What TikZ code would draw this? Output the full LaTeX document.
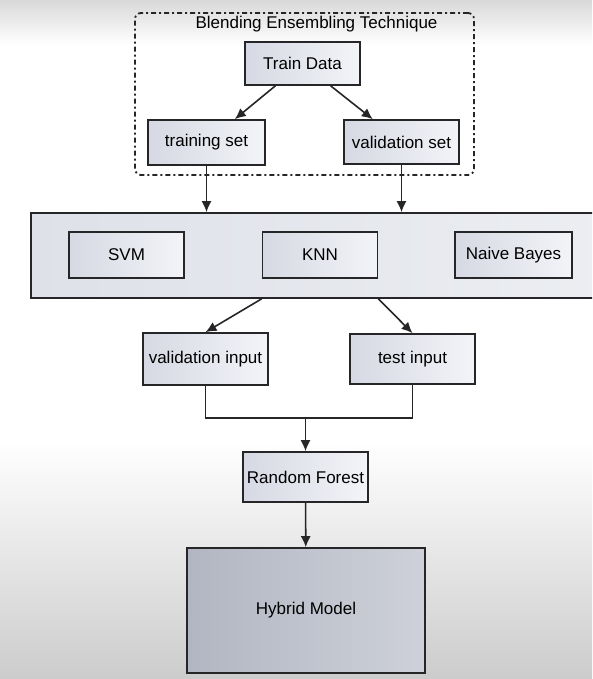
\documentclass[tikz,border=0pt]{standalone}
\usepackage{fontspec}
\setmainfont{Liberation Sans}
\usetikzlibrary{positioning, arrows.meta, calc}
\definecolor{boxdark}{RGB}{214,217,227}
\definecolor{boxlight}{RGB}{243,244,248}
\definecolor{paneldark}{RGB}{222,225,232}
\definecolor{panellight}{RGB}{236,238,242}
\definecolor{hybriddark}{RGB}{178,182,194}
\definecolor{hybridlight}{RGB}{206,209,217}
\definecolor{edgegrey}{RGB}{38,38,40}

\begin{document}
\begin{tikzpicture}[x=1pt, y=-1pt, font=\fontsize{17}{20}\selectfont,
    block/.style={draw=edgegrey, line width=1.6pt, rectangle, left color=boxdark, right color=boxlight, inner sep=2pt},
    link/.style={-{Latex[length=11pt, width=10pt]}, line width=1.6pt, draw=edgegrey}]
        % page and screen shading
        \clip (0,0) rectangle (592,679);
        \fill[white] (0,0) rectangle (592,679);
        \shade[top color=gray!30, bottom color=white] (0,0) rectangle (592,45);
        \shade[top color=white, bottom color=gray!40] (0,440) rectangle (592,679);

        \node[draw=edgegrey, line width=1.8pt, dash pattern=on 5pt off 3pt on 2pt off 3pt, rounded corners=6pt, minimum width=339pt, minimum height=162pt] (blend) at (304.5,94) {};
        \node (title) at (316.5,24) {Blending Ensembling Technique};

        \node[block, minimum width=115pt, minimum height=43pt] (train) at (302.5,63.5) {Train Data};
        \node[block, minimum width=117pt, minimum height=45pt] (trainset) at (206.5,142.5) {training set};
        \node[block, minimum width=115pt, minimum height=44pt] (valset) at (401.5,142) {validation set};

        \node[block, left color=paneldark, right color=panellight, minimum width=579pt, minimum height=85pt] (panel) at (320.5,255.5) {};
        \node[block, minimum width=115pt, minimum height=46pt] (svm) at (126.5,255) {SVM};
        \node[block, minimum width=115pt, minimum height=46pt] (knn) at (320,255) {KNN};
        \node[block, minimum width=117pt, minimum height=46pt] (bayes) at (513.5,255) {Naive Bayes};

        \node[block, minimum width=125pt, minimum height=52pt] (valin) at (205.5,359) {validation input};
        \node[block, minimum width=125pt, minimum height=50pt] (testin) at (412.5,359) {test input};

        \node[block, minimum width=125pt, minimum height=50pt] (forest) at (305.5,477) {Random Forest};
        \node[block, left color=hybriddark, right color=hybridlight, minimum width=238pt, minimum height=125pt] (hybrid) at (306,610.5) {Hybrid Model};

        \draw[link] (train) -- (trainset);
        \draw[link] (train) -- (valset);
        \draw[link] (trainset) -- (trainset |- panel.north);
        \draw[link] (valset) -- (valset |- panel.north);
        \draw[link] (knn.south west |- panel.south) -- (valin.north);
        \draw[link] (knn.south east |- panel.south) -- (testin.north);

        \coordinate (join) at ($(valin.south)+(0,32)$);
        \draw[line width=1.6pt, draw=edgegrey] (valin.south) -- (join) -| (testin.south);
        \draw[link] (join -| forest.north) -- (forest.north);
        \draw[link] (forest) -- (hybrid);
    \end{tikzpicture}
\end{document}
